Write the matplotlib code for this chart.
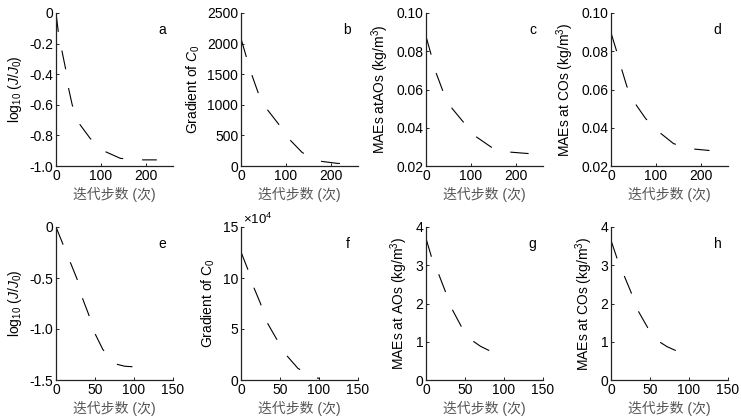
import numpy as np
import matplotlib as mpl
import matplotlib.pyplot as plt

mpl.rcParams['font.family'] = ['Liberation Sans', 'Noto Sans CJK SC', 'DejaVu Sans']
mpl.rcParams['mathtext.fontset'] = 'custom'
mpl.rcParams['mathtext.rm'] = 'Liberation Sans'
mpl.rcParams['mathtext.it'] = 'Liberation Sans:italic'
mpl.rcParams['lines.scale_dashes'] = False
mpl.rcParams['axes.unicode_minus'] = False

# values (iteration step vs. quantity)
a_x = [0, 5, 12, 21, 27, 36, 51, 76, 105, 143, 183, 224]
a_y = [0, -0.12, -0.23, -0.36, -0.48, -0.60, -0.72, -0.82, -0.90, -0.95, -0.96, -0.96]

b_x = [0, 12, 23, 38, 57, 83, 107, 136, 172, 213, 251, 275]
b_y = [2080, 1780, 1510, 1200, 935, 690, 440, 220, 82, 44, 27, 20]

c_x = [0, 12, 23, 38, 58, 84, 112, 146, 185, 228]
c_y = [0.0878, 0.0777, 0.0683, 0.0589, 0.0501, 0.0427, 0.0352, 0.0297, 0.0273, 0.0265]

d_x = [0, 11, 22, 35, 53, 77, 106, 139, 178, 219]
d_y = [0.0896, 0.0812, 0.0719, 0.0618, 0.0529, 0.0448, 0.0379, 0.0317, 0.0290, 0.0281]

e_x = [0, 9, 18, 27, 33, 42, 49, 60, 75, 88, 98]
e_y = [0, -0.17, -0.34, -0.51, -0.68, -0.86, -1.03, -1.20, -1.34, -1.365, -1.37]

f_x = [0, 8.5, 16, 25, 33, 45, 58, 73, 94, 101]
f_y = [125500, 109000, 91500, 75000, 57000, 41000, 24500, 11400, 2300, 1600]

g_x = [0, 7, 16, 25.5, 34, 45.5, 60, 70, 81]
g_y = [3.70, 3.22, 2.78, 2.28, 1.83, 1.39, 1.02, 0.88, 0.77]

h_x = [0, 7.6, 17, 27, 35, 47, 62, 72, 83]
h_y = [3.65, 3.19, 2.72, 2.23, 1.80, 1.37, 1.00, 0.87, 0.77]

letters = ['a', 'b', 'c', 'd', 'e', 'f', 'g', 'h']
ylabels = [r'log$_{10}$ ($J/J_0$)', r'Gradient of $C_0$',
           r'MAEs atAOs (kg/m$^3$)', r'MAEs at COs (kg/m$^3$)',
           r'log$_{10}$ ($J/J_0$)', r'Gradient of C$_0$',
           r'MAEs at AOs (kg/m$^3$)', r'MAEs at COs (kg/m$^3$)']
xlabel = '迭代步数 (次)'

top_xticks = [0, 100, 200]
bot_xticks = [0, 50, 100, 150]
yticks = [
    [0, -0.2, -0.4, -0.6, -0.8, -1.0],
    [0, 500, 1000, 1500, 2000, 2500],
    [0.02, 0.04, 0.06, 0.08, 0.10],
    [0.02, 0.04, 0.06, 0.08, 0.10],
    [0, -0.5, -1.0, -1.5],
    [0, 50000, 100000, 150000],
    [0, 1, 2, 3, 4],
    [0, 1, 2, 3, 4],
]
yticklabels = [
    ['0', '-0.2', '-0.4', '-0.6', '-0.8', '-1.0'],
    ['0', '500', '1000', '1500', '2000', '2500'],
    ['0.02', '0.04', '0.06', '0.08', '0.10'],
    ['0.02', '0.04', '0.06', '0.08', '0.10'],
    ['0', '-0.5', '-1.0', '-1.5'],
    ['0', '5', '10', '15'],
    ['0', '1', '2', '3', '4'],
    ['0', '1', '2', '3', '4'],
]
ylims = [(-1.0, 0), (0, 2500), (0.02, 0.10), (0.02, 0.10),
         (-1.5, 0), (0, 150000), (0, 4), (0, 4)]

series = [(a_x, a_y), (b_x, b_y), (c_x, c_y), (d_x, d_y),
          (e_x, e_y), (f_x, f_y), (g_x, g_y), (h_x, h_y)]

W, H = 741, 417
fig = plt.figure(figsize=(W / 100, H / 100), dpi=100)

lefts = [56, 241, 426, 611]
aw = 117
rows = [(13, 166), (227, 380)]

for k in range(8):
    r, c = divmod(k, 4)
    top, bot = rows[r]
    ax = fig.add_axes([lefts[c] / W, 1 - bot / H, aw / W, (bot - top) / H])
    x, y = series[k]
    ax.plot(x, y, color='black', lw=0.8, dashes=(13.7, 13.7))
    if r == 0:
        ax.set_xlim(0, 260)
        ax.set_xticks(top_xticks)
    else:
        ax.set_xlim(0, 150)
        ax.set_xticks(bot_xticks)
    ax.set_ylim(*ylims[k])
    ax.set_yticks(yticks[k])
    ax.set_yticklabels(yticklabels[k])
    for s in ['top', 'right']:
        ax.spines[s].set_visible(False)
    for s in ['left', 'bottom']:
        ax.spines[s].set_linewidth(0.9)
        ax.spines[s].set_color('#222222')
    ax.tick_params(direction='in', length=2, width=0.6, labelsize=10, pad=2)
    ax.set_ylabel(ylabels[k], fontsize=10, labelpad=4)
    ax.set_xlabel(xlabel, fontsize=10, color='#555555', labelpad=3)
    ax.text(0.91, 0.89, letters[k], transform=ax.transAxes, fontsize=10,
            ha='center', va='center')
    if k == 5:
        ax.text(0.02, 1.0, r'$\times$10$^4$', transform=ax.transAxes,
                fontsize=9.5, ha='left', va='bottom')

fig.savefig('out.png', dpi=100)
